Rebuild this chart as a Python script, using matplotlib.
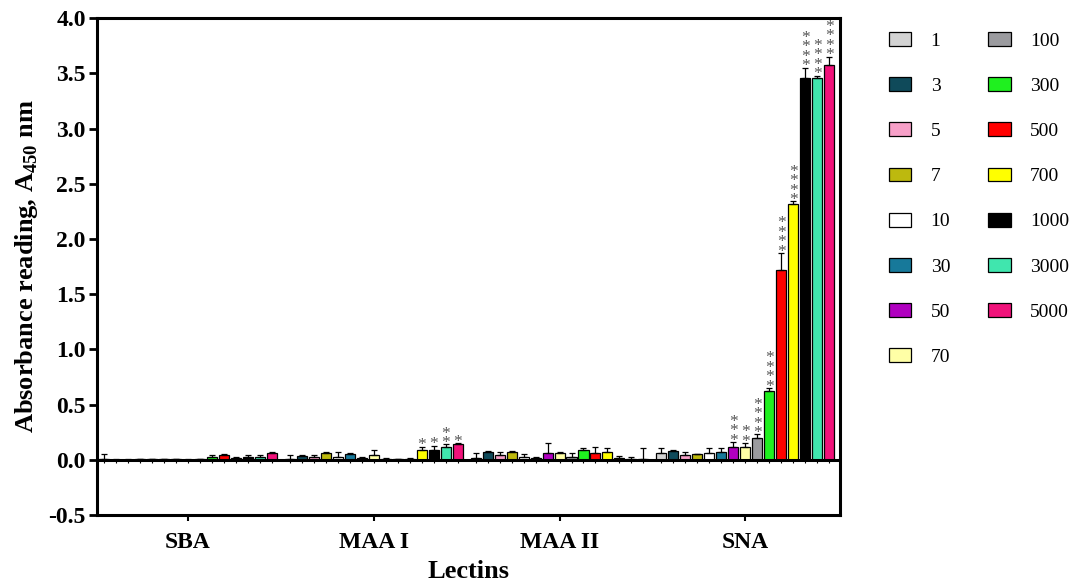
import numpy as np
import matplotlib
matplotlib.use('Agg')
import matplotlib.pyplot as plt

plt.rcParams['font.family'] = ['Liberation Serif', 'DejaVu Serif']
plt.rcParams['mathtext.fontset'] = 'custom'
plt.rcParams['mathtext.rm'] = 'Liberation Serif'
plt.rcParams['mathtext.bf'] = 'Liberation Serif:bold'

lectins = ['SBA', 'MAA I', 'MAA II', 'SNA']
doses = ['1', '3', '5', '7', '10', '30', '50', '70',
         '100', '300', '500', '700', '1000', '3000', '5000']
colors = ['#d3d3d3', '#0f4a5a', '#f7a0c8', '#bdb90e', '#ffffff', '#17799a',
          '#b000c0', '#ffffa6', '#9b9b9f', '#1ff01f', '#ff0000', '#ffff00',
          '#000000', '#40e6ae', '#f0127a']

# mean absorbance per lectin, one value per dose
sba = [0.005, 0.003, 0.003, 0.004, 0.004, 0.006, 0.006, 0.003,
       0.006, 0.03, 0.04, 0.02, 0.03, 0.03, 0.06]
maa1 = [0.01, 0.035, 0.03, 0.065, 0.03, 0.05, 0.02, 0.04,
        0.01, 0.005, 0.01, 0.09, 0.09, 0.12, 0.14]
maa2 = [0.02, 0.07, 0.04, 0.07, 0.03, 0.02, 0.06, 0.06,
        0.03, 0.09, 0.06, 0.07, 0.02, 0.01, 0.005]
sna = [0.06, 0.08, 0.04, 0.05, 0.06, 0.07, 0.12, 0.12,
       0.20, 0.62, 1.72, 2.32, 3.46, 3.46, 3.58]

# upper error (SD)
sba_err = [0.05, 0.005, 0.005, 0.005, 0.005, 0.005, 0.005, 0.005,
           0.005, 0.01, 0.01, 0.01, 0.01, 0.01, 0.015]
maa1_err = [0.03, 0.01, 0.015, 0.005, 0.04, 0.01, 0.01, 0.05,
            0.005, 0.005, 0.005, 0.03, 0.04, 0.02, 0.01]
maa2_err = [0.04, 0.01, 0.03, 0.01, 0.02, 0.005, 0.09, 0.01,
            0.03, 0.02, 0.06, 0.04, 0.015, 0.02, 0.1]
sna_err = [0.05, 0.005, 0.03, 0.005, 0.05, 0.04, 0.04, 0.03,
           0.03, 0.03, 0.15, 0.02, 0.09, 0.02, 0.07]

# significance stars (number of asterisks)
sba_sig = [0] * 15
maa1_sig = [0, 0, 0, 0, 0, 0, 0, 0, 0, 0, 0, 1, 1, 2, 1]
maa2_sig = [0] * 15
sna_sig = [0, 0, 0, 0, 0, 0, 3, 2, 4, 4, 4, 4, 4, 4, 4]

means = [sba, maa1, maa2, sna]
errs = [sba_err, maa1_err, maa2_err, sna_err]
sigs = [sba_sig, maa1_sig, maa2_sig, sna_sig]

fig = plt.figure(figsize=(10.77, 5.86), dpi=100)
ax = fig.add_axes([0.090, 0.121, 0.690, 0.848])

step = 0.0645
width = 0.054
x = np.arange(len(lectins))

for j, d in enumerate(doses):
    pos = x + (j - 7) * step
    vals = [m[j] for m in means]
    e = [er[j] for er in errs]
    ax.bar(pos, vals, width, color=colors[j], edgecolor='black',
           linewidth=0.9, label=d, zorder=3)
    ax.errorbar(pos, vals, yerr=[np.zeros(len(vals)), e], fmt='none',
                ecolor='black', elinewidth=0.9, capsize=2.5, capthick=0.9,
                zorder=4)
    # small ticks under the zero line
    ax.vlines(pos, -0.025, 0, color='black', linewidth=0.8, zorder=5)
    for i in range(len(lectins)):
        n = sigs[i][j]
        if n:
            ax.text(pos[i], vals[i] + e[i] - 0.06, '\n'.join(['*'] * n),
                    ha='center', va='bottom', fontsize=12.5, color='#555555',
                    linespacing=0.46, zorder=6)

ax.axhline(0, color='black', linewidth=2.2, zorder=5)

ax.set_xlim(-0.49, 3.51)
ax.set_ylim(-0.5, 4.0)
ax.set_yticks(np.arange(-0.5, 4.01, 0.5))
ax.set_yticklabels(['%.1f' % v for v in np.arange(-0.5, 4.01, 0.5)],
                   fontsize=17, fontweight='bold')
ax.set_xticks(x)
ax.set_xticklabels(lectins, fontsize=17, fontweight='bold')
ax.tick_params(axis='y', direction='out', length=6, width=2, pad=2)
ax.tick_params(axis='x', direction='out', length=4, width=1.5, pad=8)
for s in ax.spines.values():
    s.set_linewidth(2.2)

ax.set_xlabel('Lectins', fontsize=19, fontweight='bold', labelpad=5)
ax.set_ylabel(r'Absorbance reading, A$_{\mathbf{450}}$ nm', fontsize=19,
              fontweight='bold', labelpad=6)

fig.legend(loc='upper left', bbox_to_anchor=(0.809, 0.975), ncol=2,
           frameon=False, fontsize=14, labelspacing=1.41, handlelength=1.15,
           handleheight=0.72, handletextpad=1.0, columnspacing=1.95)

fig.savefig('out.png', dpi=100)
